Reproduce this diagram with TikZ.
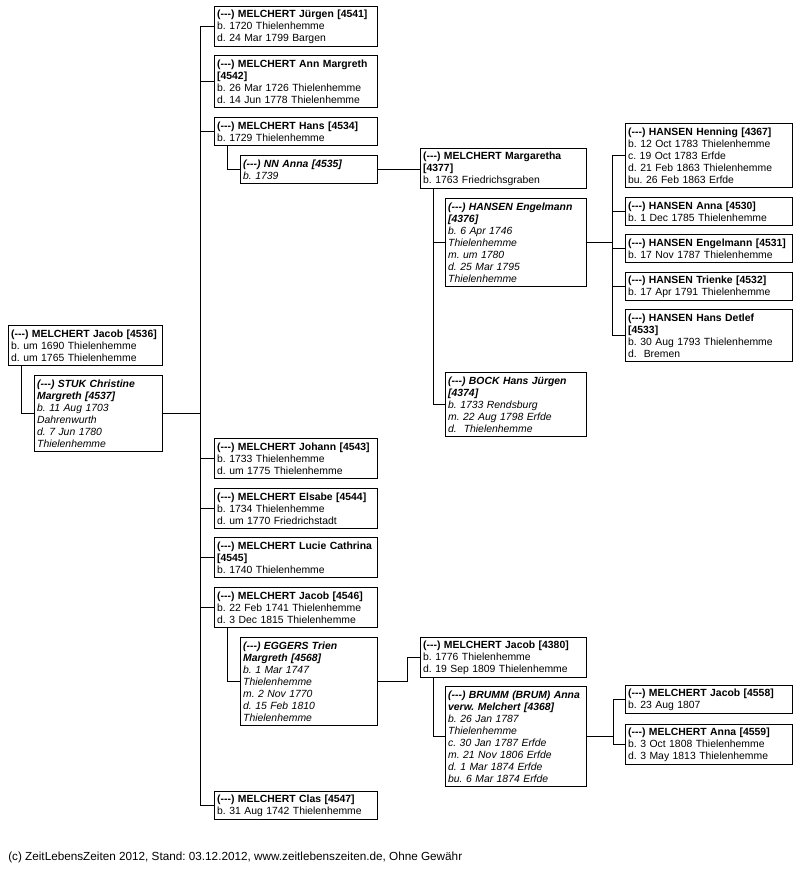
\documentclass[tikz,border=0pt]{standalone}
\usepackage{fontspec}
\setmainfont{Liberation Sans}
\usepackage{tikz}
\frenchspacing
\hyphenpenalty=10000
\exhyphenpenalty=10000

\newcommand{\unkn}{(-{}-{}-)}

\begin{document}
\begin{tikzpicture}[
  x=0.75pt, y=-0.75pt,
  person/.style={rectangle, draw, line width=0.75pt, anchor=north west, align=left,
    inner xsep=2pt, inner ysep=0pt, font=\fontsize{7.8}{9}\selectfont},
  spouse/.style={person, font=\fontsize{7.8}{9}\selectfont\itshape},
  nlines/.style={minimum height={#1*9pt+3pt}},
  kidw/.style={text width=118.25pt},
  inlaww/.style={text width=98.75pt},
  grandw/.style={text width=120.5pt},
  ginlaww/.style={text width=101.75pt},
  greatw/.style={text width=121.25pt},
  rootw/.style={text width=111.5pt},
  rootinlaw/.style={text width=92pt},
  conn/.style={line width=0.75pt}
]
  \fill[white] (0,0) rectangle (803,873);
  \useasboundingbox (0,0) rectangle (803,873);

  % root couple
  \node[person, rootw, nlines=3] (jacobA) at (8,325) {\textbf{\unkn{} MELCHERT Jacob [4536]}\\ b. um 1690 Thielenhemme\\ d. um 1765 Thielenhemme};
  \node[spouse, rootinlaw, nlines=6] (stuk) at (34,375) {\textbf{\unkn{} STUK Christine}\\ \textbf{Margreth [4537]}\\ b. 11 Aug 1703\\ Dahrenwurth\\ d. 7 Jun 1780\\ Thielenhemme};

  % children
  \node[person, kidw, nlines=3] (jurgen) at (214,6) {\textbf{\unkn{} MELCHERT Jürgen [4541]}\\ b. 1720 Thielenhemme\\ d. 24 Mar 1799 Bargen};
  \node[person, kidw, nlines=4] (annm) at (214,55) {\textbf{\unkn{} MELCHERT Ann Margreth}\\ \textbf{[4542]}\\ b. 26 Mar 1726 Thielenhemme\\ d. 14 Jun 1778 Thielenhemme};
  \node[person, kidw, nlines=2] (hans) at (214,117) {\textbf{\unkn{} MELCHERT Hans [4534]}\\ b. 1729 Thielenhemme};
  \node[spouse, inlaww, nlines=2] (nnanna) at (240,155) {\textbf{\unkn{} NN Anna [4535]}\\ b. 1739};
  \node[person, kidw, nlines=3] (johann) at (214,438) {\textbf{\unkn{} MELCHERT Johann [4543]}\\ b. 1733 Thielenhemme\\ d. um 1775 Thielenhemme};
  \node[person, kidw, nlines=3] (elsabe) at (214,488) {\textbf{\unkn{} MELCHERT Elsabe [4544]}\\ b. 1734 Thielenhemme\\ d. um 1770 Friedrichstadt};
  \node[person, kidw, nlines=3] (lucie) at (214,537) {\textbf{\unkn{} MELCHERT Lucie Cathrina}\\ \textbf{[4545]}\\ b. 1740 Thielenhemme};
  \node[person, kidw, nlines=3] (jacobB) at (214,587) {\textbf{\unkn{} MELCHERT Jacob [4546]}\\ b. 22 Feb 1741 Thielenhemme\\ d. 3 Dec 1815 Thielenhemme};
  \node[spouse, inlaww, nlines=7] (eggers) at (240,637) {\textbf{\unkn{} EGGERS Trien}\\ \textbf{Margreth [4568]}\\ b. 1 Mar 1747\\ Thielenhemme\\ m. 2 Nov 1770\\ d. 15 Feb 1810\\ Thielenhemme};
  \node[person, kidw, nlines=2] (clas) at (214,791) {\textbf{\unkn{} MELCHERT Clas [4547]}\\ b. 31 Aug 1742 Thielenhemme};

  % grandchildren
  \node[person, grandw, nlines=3] (marg) at (420,148) {\textbf{\unkn{} MELCHERT Margaretha}\\ \textbf{[4377]}\\ b. 1763 Friedrichsgraben};
  \node[spouse, ginlaww, nlines=7] (engel) at (445,198) {\textbf{\unkn{} HANSEN Engelmann}\\ \textbf{[4376]}\\ b. 6 Apr 1746\\ Thielenhemme\\ m. um 1780\\ d. 25 Mar 1795\\ Thielenhemme};
  \node[spouse, ginlaww, nlines=5] (bock) at (445,372) {\textbf{\unkn{} BOCK Hans Jürgen}\\ \textbf{[4374]}\\ b. 1733 Rendsburg\\ m. 22 Aug 1798 Erfde\\ d.~ Thielenhemme};
  \node[person, grandw, nlines=3] (jacobC) at (420,637) {\textbf{\unkn{} MELCHERT Jacob [4380]}\\ b. 1776 Thielenhemme\\ d. 19 Sep 1809 Thielenhemme};
  \node[spouse, ginlaww, nlines=8] (brumm) at (445,686) {\textbf{\unkn{} BRUMM (BRUM) Anna}\\ \textbf{verw. Melchert [4368]}\\ b. 26 Jan 1787\\ Thielenhemme\\ c. 30 Jan 1787 Erfde\\ m. 21 Nov 1806 Erfde\\ d. 1 Mar 1874 Erfde\\ bu. 6 Mar 1874 Erfde};

  % great-grandchildren
  \node[person, greatw, nlines=5] (henning) at (625,123) {\textbf{\unkn{} HANSEN Henning [4367]}\\ b. 12 Oct 1783 Thielenhemme\\ c. 19 Oct 1783 Erfde\\ d. 21 Feb 1863 Thielenhemme\\ bu. 26 Feb 1863 Erfde};
  \node[person, greatw, nlines=2] (annaH) at (625,197) {\textbf{\unkn{} HANSEN Anna [4530]}\\ b. 1 Dec 1785 Thielenhemme};
  \node[person, greatw, nlines=2] (engelH) at (625,234) {\textbf{\unkn{} HANSEN Engelmann [4531]}\\ b. 17 Nov 1787 Thielenhemme};
  \node[person, greatw, nlines=2] (trienke) at (625,272) {\textbf{\unkn{} HANSEN Trienke [4532]}\\ b. 17 Apr 1791 Thielenhemme};
  \node[person, greatw, nlines=4] (detlef) at (625,309) {\textbf{\unkn{} HANSEN Hans Detlef}\\ \textbf{[4533]}\\ b. 30 Aug 1793 Thielenhemme\\ d.~ Bremen};
  \node[person, greatw, nlines=2] (jacobD) at (625,685) {\textbf{\unkn{} MELCHERT Jacob [4558]}\\ b. 23 Aug 1807};
  \node[person, greatw, nlines=3] (annaM) at (625,724) {\textbf{\unkn{} MELCHERT Anna [4559]}\\ b. 3 Oct 1808 Thielenhemme\\ d. 3 May 1813 Thielenhemme};

  % bars
  \coordinate (trunk) at (200,0);
  \coordinate (ebar) at (407,0);
  \coordinate (hbar) at (612,0);
  \coordinate (bbar) at (613,0);

  % spouse links
  \draw[conn] ([xshift=9.75pt]jacobA.south west) |- (stuk.west);
  \draw[conn] ([xshift=9.75pt]hans.south west) |- (nnanna.west);
  \draw[conn] ([xshift=9.75pt]jacobB.south west) |- (eggers.west);
  \draw[conn] ([xshift=9.75pt]marg.south west) |- (bock.west);
  \draw[conn] ([xshift=9.75pt]marg.south west |- engel.west) -- (engel.west);
  \draw[conn] ([xshift=9.75pt]jacobC.south west) |- (brumm.west);

  % children of Jacob and Christine
  \draw[conn] (stuk.east) -- (stuk.east -| trunk);
  \draw[conn] (trunk |- jurgen.west) -- (trunk |- clas.west);
  \draw[conn] (trunk |- jurgen.west) -- (jurgen.west);
  \draw[conn] (trunk |- annm.west) -- (annm.west);
  \draw[conn] (trunk |- hans.west) -- (hans.west);
  \draw[conn] (trunk |- johann.west) -- (johann.west);
  \draw[conn] (trunk |- elsabe.west) -- (elsabe.west);
  \draw[conn] (trunk |- lucie.west) -- (lucie.west);
  \draw[conn] (trunk |- jacobB.west) -- (jacobB.west);
  \draw[conn] (trunk |- clas.west) -- (clas.west);

  % next generations
  \draw[conn] (nnanna.east) -- (nnanna.east -| marg.west);
  \draw[conn] (eggers.east) -| (ebar |- jacobC.west) -- (jacobC.west);

  \draw[conn] (engel.east) -- (engel.east -| hbar);
  \draw[conn] (hbar |- henning.west) -- (hbar |- detlef.west);
  \draw[conn] (hbar |- henning.west) -- (henning.west);
  \draw[conn] (hbar |- annaH.west) -- (annaH.west);
  \draw[conn] (hbar |- engelH.west) -- (engelH.west);
  \draw[conn] (hbar |- trienke.west) -- (trienke.west);
  \draw[conn] (hbar |- detlef.west) -- (detlef.west);

  \draw[conn] (brumm.east) -- (brumm.east -| bbar);
  \draw[conn] (bbar |- jacobD.west) -- (bbar |- annaM.west);
  \draw[conn] (bbar |- jacobD.west) -- (jacobD.west);
  \draw[conn] (bbar |- annaM.west) -- (annaM.west);

  \node[anchor=west, inner sep=0pt, font=\fontsize{8.8}{10}\selectfont] (footer) at (8,857) {(c) ZeitLebensZeiten 2012, Stand: 03.12.2012, www.zeitlebenszeiten.de, Ohne Gewähr};
\end{tikzpicture}
\end{document}
